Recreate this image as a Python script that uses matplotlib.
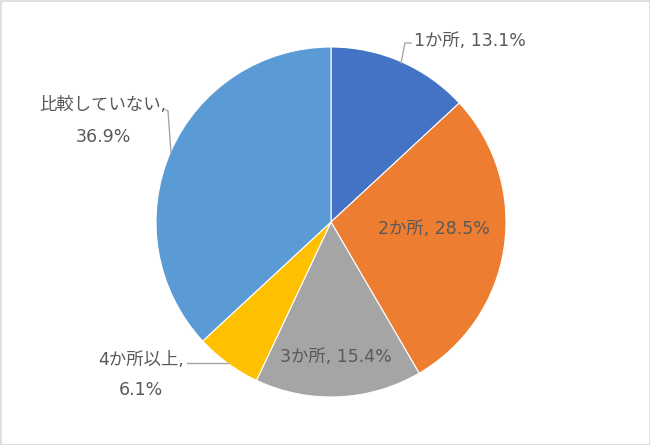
import matplotlib
matplotlib.use("Agg")
import matplotlib.pyplot as plt
from matplotlib.patches import Rectangle

# DejaVu for the wide Latin digits, Noto CJK for the Japanese glyphs
plt.rcParams["font.family"] = ["DejaVu Sans", "Noto Sans CJK JP"]

labels = ["1か所", "2か所", "3か所", "4か所以上", "比較していない"]
shares = [13.1, 28.5, 15.4, 6.1, 36.9]
colors = ["#4472C4", "#ED7D31", "#A5A5A5", "#FFC000", "#5B9BD5"]

W, H = 650, 445
fig = plt.figure(figsize=(W / 100, H / 100), dpi=100)
ax = fig.add_axes([0, 0, 1, 1])

# pie in pixel space (y inverted -> start at 270, ccw in data = clockwise on screen)
cx, cy, R = 331, 222, 175
ax.pie(shares, colors=colors, startangle=270, counterclock=True, center=(cx, cy),
       radius=R, frame=True, wedgeprops=dict(edgecolor="white", linewidth=0.8))
ax.set_xlim(0, W); ax.set_ylim(H, 0); ax.axis("off")

txt = dict(color="#595959", fontsize=12.5)
lbl = [f"{l}, {v}%" for l, v in zip(labels, shares)]
ax.text(414, 41, lbl[0], ha="left", va="center", **txt)
ax.text(434, 229, lbl[1], ha="center", va="center", **txt)
ax.text(336, 357, lbl[2], ha="center", va="center", **txt)
ax.text(141, 375, f"{labels[3]},\n{shares[3]}%", ha="center", va="center",
        linespacing=1.85, **txt)
ax.text(103, 121, f"{labels[4]},\n{shares[4]}%", ha="center", va="center",
        linespacing=2.0, **txt)

# leader lines
lc = dict(color="#A6A6A6", lw=1)
ax.plot([411, 405, 401], [43, 43, 63], **lc)
ax.plot([187, 228], [363, 363], **lc)
ax.plot([166, 168, 171], [110, 111, 153], **lc)

ax.add_patch(Rectangle((0.5, 0.5), W - 1, H - 1, fill=False, edgecolor="#D9D9D9", lw=1.2))
fig.savefig("out.png", dpi=100)
